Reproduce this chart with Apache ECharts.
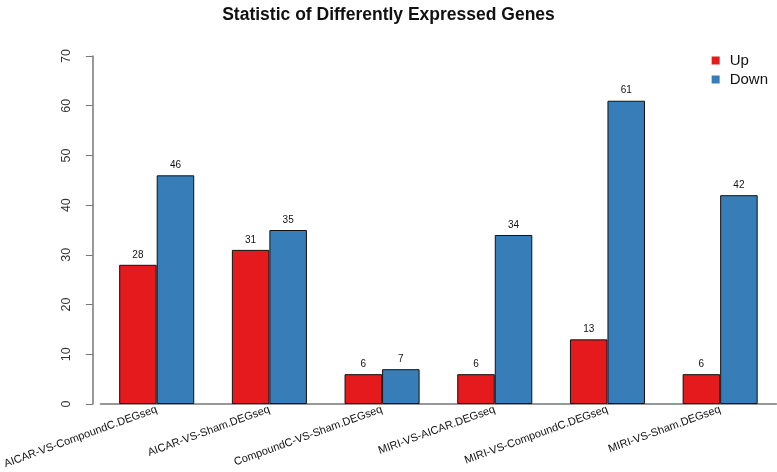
<!DOCTYPE html>
<html>
<head>
<meta charset="utf-8">
<script src="https://cdn.jsdelivr.net/npm/echarts@6/dist/echarts.min.js"></script>
<style>
html, body { margin: 0; padding: 0; background: #fff; }
#chart { width: 777px; height: 472px; }
</style>
</head>
<body>
<div id="chart"></div>
<script>
var categories = ['AICAR-VS-CompoundC.DEGseq', 'AICAR-VS-Sham.DEGseq', 'CompoundC-VS-Sham.DEGseq',
	'MIRI-VS-AICAR.DEGseq', 'MIRI-VS-CompoundC.DEGseq', 'MIRI-VS-Sham.DEGseq'];
var upValues = [28, 31, 6, 6, 13, 6];
var downValues = [46, 35, 7, 34, 61, 42];
var yTicks = [0, 10, 20, 30, 40, 50, 60, 70];

var fontFam = 'Liberation Sans, Arial, sans-serif';

function barSeries(_name, _data, _color) {
	return {
		name: _name,
		type: 'bar',
		data: _data,
		barWidth: '33.3%',
		barGap: 0,
		itemStyle: {
			color: _color,
			borderColor: '#111',
			borderWidth: 1
		},
		label: {
			show: true,
			position: 'top',
			distance: 5,
			color: '#111',
			fontSize: 10,
			fontFamily: fontFam
		}
	};
}

var chart = echarts.init(document.getElementById('chart'));
chart.setOption({
	animation: false,
	title: {
		text: 'Statistic of Differently Expressed Genes',
		left: 'center',
		top: 1,
		textStyle: {
			fontSize: 17.5,
			fontWeight: 'bold',
			color: '#111',
			fontFamily: fontFam
		}
	},
	legend: {
		orient: 'vertical',
		right: 4,
		top: 48,
		itemWidth: 8,
		itemHeight: 8,
		itemGap: 4,
		icon: 'rect',
		itemStyle: { borderWidth: 0 },
		textStyle: {
			fontSize: 15,
			color: '#111',
			fontFamily: fontFam,
			padding: [0, 0, 0, 5]
		},
		data: ['Up', 'Down']
	},
	grid: {
		left: 97.5,
		right: 0.5,
		top: 56,
		bottom: 68
	},
	xAxis: {
		type: 'category',
		data: categories,
		axisLine: { lineStyle: { color: '#777', width: 1.5 } },
		axisTick: { show: false },
		axisLabel: {
			rotate: 20,
			margin: 5,
			fontSize: 11,
			color: '#111',
			fontFamily: fontFam,
			interval: 0
		}
	},
	yAxis: {
		type: 'value',
		min: yTicks[0],
		max: yTicks[yTicks.length - 1],
		interval: 10,
		offset: 7.5,
		splitLine: { show: false },
		axisLine: { show: true, lineStyle: { color: '#777', width: 1.5 } },
		axisTick: { show: true, length: 7, lineStyle: { color: '#777' } },
		axisLabel: {
			rotate: 90,
			margin: 20,
			fontSize: 12.5,
			color: '#333',
			fontFamily: fontFam
		}
	},
	series: [
		barSeries('Up', upValues, '#E41A1C'),
		barSeries('Down', downValues, '#377EB8')
	]
});
</script>
</body>
</html>
